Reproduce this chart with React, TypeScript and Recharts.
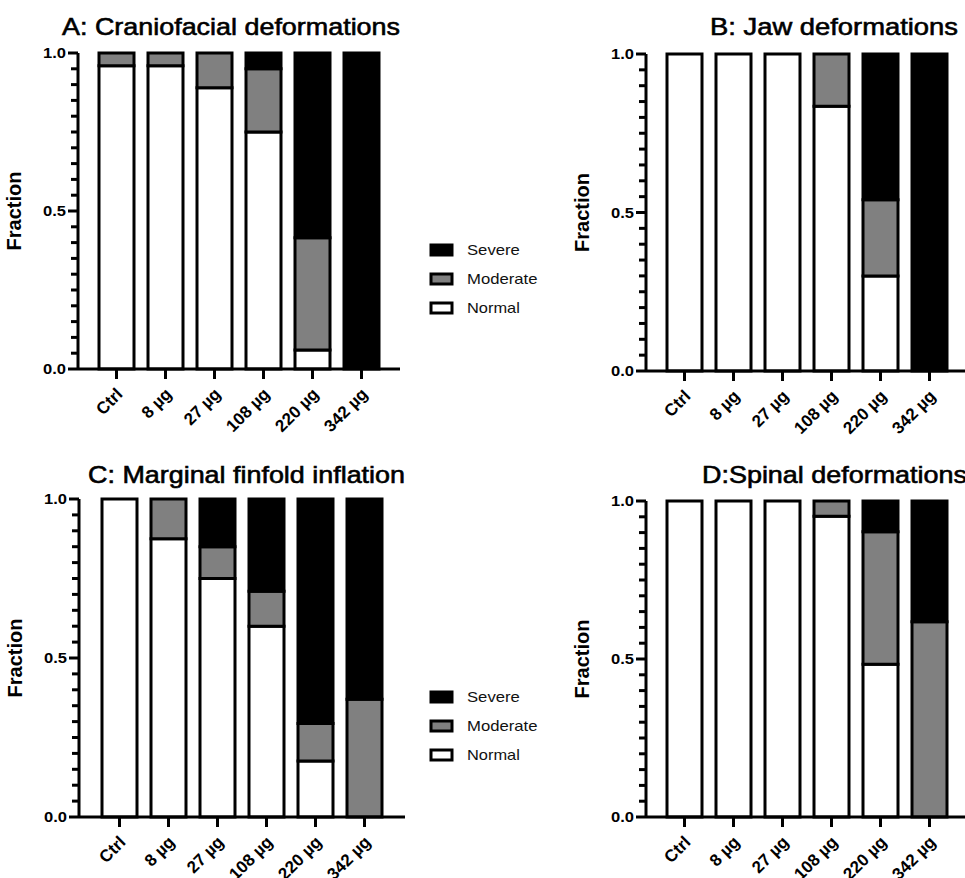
import React from 'react';
import { BarChart, Bar, XAxis, YAxis } from 'recharts';

const CATEGORIES = ['Ctrl', '8 µg', '27 µg', '108 µg', '220 µg', '342 µg'];

// A: Craniofacial deformations
const A_NORMAL = [0.96, 0.96, 0.89, 0.75, 0.06, 0];
const A_MODERATE = [0.04, 0.04, 0.11, 0.2, 0.355, 0];
const A_SEVERE = [0, 0, 0, 0.05, 0.585, 1];

// B: Jaw deformations
const B_NORMAL = [1, 1, 1, 0.835, 0.3, 0];
const B_MODERATE = [0, 0, 0, 0.165, 0.24, 0];
const B_SEVERE = [0, 0, 0, 0, 0.46, 1];

// C: Marginal finfold inflation
const C_NORMAL = [1, 0.875, 0.75, 0.6, 0.176, 0];
const C_MODERATE = [0, 0.125, 0.1, 0.11, 0.118, 0.37];
const C_SEVERE = [0, 0, 0.15, 0.29, 0.706, 0.63];

// D: Spinal deformations
const D_NORMAL = [1, 1, 1, 0.952, 0.483, 0];
const D_MODERATE = [0, 0, 0, 0.048, 0.42, 0.618];
const D_SEVERE = [0, 0, 0, 0, 0.097, 0.382];

const SERIES = [
  { key: 'severe', name: 'Severe', fill: '#000000' },
  { key: 'moderate', name: 'Moderate', fill: '#808080' },
  { key: 'normal', name: 'Normal', fill: '#ffffff' },
];

const Y_TICKS = [0, 0.05, 0.1, 0.15, 0.2, 0.25, 0.3, 0.35, 0.4, 0.45, 0.5, 0.55, 0.6, 0.65, 0.7, 0.75, 0.8, 0.85, 0.9, 0.95, 1];
const Y_LABELS: Record<string, string> = { '0': '0.0', '0.5': '0.5', '1': '1.0' };

const FONT = '"Liberation Sans", Arial, sans-serif';

function buildRows(normal: number[], moderate: number[], severe: number[]) {
  return CATEGORIES.map((name, i) => ({ name, normal: normal[i], moderate: moderate[i], severe: severe[i] }));
}

const YTick = (props: any) => {
  const { x, y, payload } = props;
  const label = Y_LABELS[String(payload.value)];
  return (
    <g>
      <line x1={x} x2={x - (label ? 10 : 7)} y1={y} y2={y} stroke="#000" strokeWidth={3} />
      {label && (
        <text
          x={x - 12}
          y={y}
          dy="0.36em"
          textAnchor="end"
          fontFamily={FONT}
          fontWeight="bold"
          fontSize={14.5}
          fill="#000"
          textLength={23}
          lengthAdjust="spacingAndGlyphs"
        >
          {label}
        </text>
      )}
    </g>
  );
};

const XTick = (props: any) => {
  const { x, y, payload } = props;
  return (
    <g transform={`translate(${x + 3},${y + 8}) rotate(-45)`}>
      <text x={0} y={0} dy="0.35em" textAnchor="end" fontFamily={FONT} fontWeight="bold" fontSize={17} fill="#000">
        {payload.value}
      </text>
    </g>
  );
};

type PanelProps = {
  left: number;
  top: number;
  plotTop: number;
  plotBottom: number;
  plotRight: number;
  pad: number;
  rows: any[];
};

function Panel({ left, top, plotTop, plotBottom, plotRight, pad, rows }: PanelProps) {
  const W = 420;
  const H = 440;
  const XH = 60;
  const line = { stroke: '#000', strokeWidth: 3 };
  return (
    <div style={{ position: 'absolute', left, top }}>
      <BarChart
        width={W}
        height={H}
        data={rows}
        margin={{ top: plotTop, right: W - plotRight, bottom: H - plotBottom - XH, left: 0 }}
        barSize={35}
      >
        <XAxis
          dataKey="name"
          height={XH}
          padding={{ left: pad, right: pad }}
          axisLine={line}
          tickLine={line}
          tickSize={10}
          tickMargin={4}
          interval={0}
          tick={<XTick />}
        />
        <XAxis xAxisId="top" orientation="top" dataKey="name" height={0} tick={false} tickLine={false} axisLine={line} />
        <YAxis
          domain={[0, 1]}
          ticks={Y_TICKS}
          width={78}
          axisLine={line}
          tickLine={false}
          tickSize={0}
          tickMargin={0}
          interval={0}
          tick={<YTick />}
          label={{
            value: 'Fraction',
            angle: -90,
            position: 'insideLeft',
            offset: 14,
            style: { textAnchor: 'middle', fontFamily: FONT, fontWeight: 'bold', fontSize: 20, fill: '#000' },
          }}
        />
        <YAxis yAxisId="right" orientation="right" domain={[0, 1]} width={0} tick={false} tickLine={false} axisLine={line} />
        {[...SERIES].reverse().map((s) => (
          <Bar
            key={s.key}
            dataKey={s.key}
            name={s.name}
            stackId="a"
            fill={s.fill}
            stroke="#000"
            strokeWidth={3}
            isAnimationActive={false}
          />
        ))}
      </BarChart>
    </div>
  );
}

function LegendBlock({ x, y }: { x: number; y: number }) {
  return (
    <g>
      {SERIES.map((s, i) => (
        <g key={s.key}>
          <rect x={x} y={y + i * 29 - 5} width={21} height={10} fill={s.fill} stroke="#000" strokeWidth={3} />
          <text
            x={x + 36}
            y={y + i * 29 + 5}
            fontFamily={FONT}
            fontSize={15}
            fill="#111"
            textLength={s.name.length * 8.8}
            lengthAdjust="spacingAndGlyphs"
          >
            {s.name}
          </text>
        </g>
      ))}
    </g>
  );
}

const TITLES = [
  { text: 'A: Craniofacial deformations', x: 62, y: 35, w: 338 },
  { text: 'B: Jaw deformations', x: 710, y: 35, w: 248 },
  { text: 'C: Marginal finfold inflation', x: 88, y: 483, w: 317 },
  { text: 'D:Spinal deformations', x: 702, y: 483, w: 265 },
];

export default function App() {
  return (
    <div
      style={{
        position: 'absolute',
        left: 0,
        top: 0,
        width: 965,
        height: 878,
        overflow: 'hidden',
        background: '#fff',
        fontFamily: FONT,
      }}
    >
      <Panel left={0} top={0} plotTop={53} plotBottom={369} plotRight={400} pad={14} rows={buildRows(A_NORMAL, A_MODERATE, A_SEVERE)} />
      <Panel left={568} top={0} plotTop={54} plotBottom={371} plotRight={400} pad={14} rows={buildRows(B_NORMAL, B_MODERATE, B_SEVERE)} />
      <Panel left={1} top={440} plotTop={59} plotBottom={377} plotRight={404} pad={16} rows={buildRows(C_NORMAL, C_MODERATE, C_SEVERE)} />
      <Panel left={568} top={440} plotTop={61} plotBottom={377} plotRight={400} pad={14} rows={buildRows(D_NORMAL, D_MODERATE, D_SEVERE)} />
      <svg width={965} height={878} style={{ position: 'absolute', left: 0, top: 0, pointerEvents: 'none' }}>
        {TITLES.map((t) => (
          <text
            key={t.text}
            x={t.x}
            y={t.y}
            fontFamily={FONT}
            fontSize={24}
            fill="#000"
            stroke="#000"
            strokeWidth={0.6}
            textLength={t.w}
            lengthAdjust="spacingAndGlyphs"
          >
            {t.text}
          </text>
        ))}
        <LegendBlock x={431} y={250} />
        <LegendBlock x={431} y={697} />
      </svg>
    </div>
  );
}
